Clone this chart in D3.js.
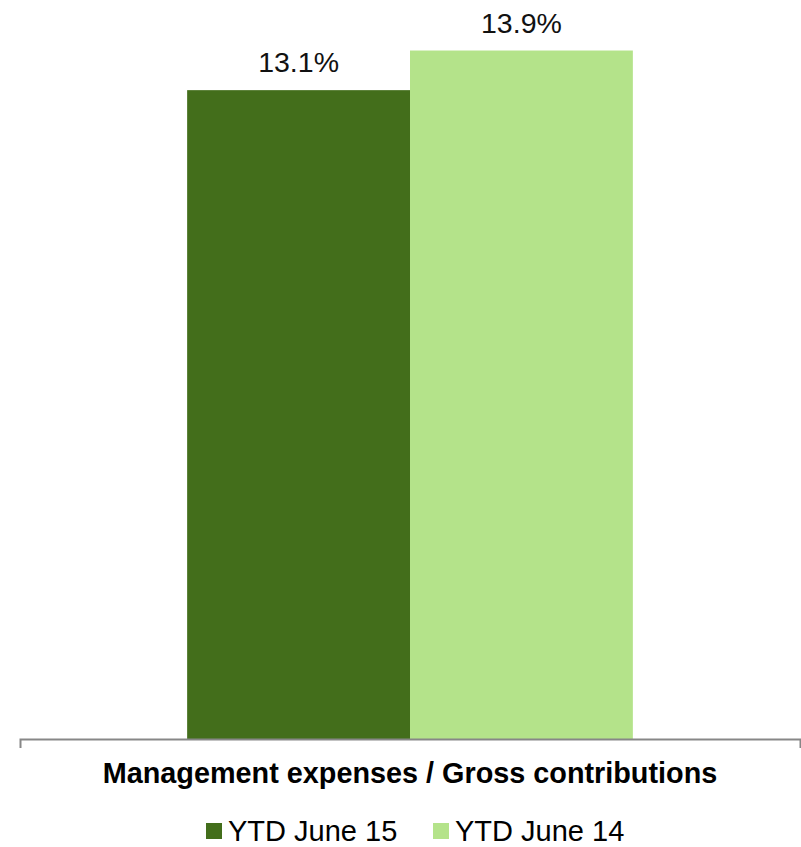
<!DOCTYPE html>
<html>
<head>
<meta charset="utf-8">
<script src="https://cdn.jsdelivr.net/npm/d3@7"></script>
<style>
  html, body { margin: 0; padding: 0; background: #fff; }
  svg { display: block; font-family: Arial, "Liberation Sans", sans-serif; }
</style>
</head>
<body>
<svg id="chart" width="801" height="847"></svg>
<script>
// Chart data
const categories = ["Management expenses / Gross contributions"];
const seriesNames = ["YTD June 15", "YTD June 14"];
const seriesValues = [13.1, 13.9];
const seriesColors = ["#436E1B", "#B4E38A"];

const svg = d3.select("#chart");
const baseY = 739;
const plotLeft = 20, plotRight = 800;

// Category band (gap width 150% of a bar)
const x0 = d3.scaleBand()
  .domain(categories)
  .range([plotLeft, plotRight])
  .paddingInner(0)
  .paddingOuter(0.375);

const x1 = d3.scaleBand()
  .domain(seriesNames)
  .range([0, x0.bandwidth()]);

const y = d3.scaleLinear()
  .domain([0, 14.92])
  .range([baseY, 0]);

const rows = seriesNames.map((s, i) => ({ name: s, value: seriesValues[i], color: seriesColors[i] }));

const g = svg.append("g").attr("transform", `translate(${x0(categories[0])},0)`);

g.selectAll("rect.bar")
  .data(rows)
  .join("rect")
  .attr("class", "bar")
  .attr("x", d => x1(d.name))
  .attr("y", d => y(d.value))
  .attr("width", x1.bandwidth())
  .attr("height", d => baseY - y(d.value))
  .attr("fill", d => d.color);

g.selectAll("text.val")
  .data(rows)
  .join("text")
  .attr("class", "val")
  .attr("x", d => x1(d.name) + x1.bandwidth() / 2)
  .attr("y", d => y(d.value) - 18)
  .attr("text-anchor", "middle")
  .attr("font-size", 28.5)
  .attr("fill", "#111")
  .text(d => d.value.toFixed(1) + "%");

// Category axis
const axis = svg.append("g")
  .attr("transform", `translate(0,${baseY})`)
  .call(d3.axisBottom(x0).tickSizeInner(0).tickSizeOuter(9).tickPadding(24));

axis.select(".domain").attr("stroke", "#878787").attr("stroke-width", 2);
axis.selectAll(".tick line").remove();
axis.selectAll(".tick text")
  .attr("font-size", 28.8)
  .attr("font-weight", "bold")
  .attr("font-family", "Arial, 'Liberation Sans', sans-serif")
  .attr("fill", "#000");

// Legend
const legend = svg.append("g").attr("transform", "translate(206,823)");
const item = legend.selectAll("g.item")
  .data(rows)
  .join("g")
  .attr("class", "item")
  .attr("transform", (d, i) => `translate(${i * 227},0)`);

item.append("rect")
  .attr("width", 16)
  .attr("height", 16)
  .attr("fill", d => d.color);

item.append("text")
  .attr("x", 22)
  .attr("y", 18)
  .attr("font-size", 29)
  .attr("fill", "#000")
  .text(d => d.name);
</script>
</body>
</html>
